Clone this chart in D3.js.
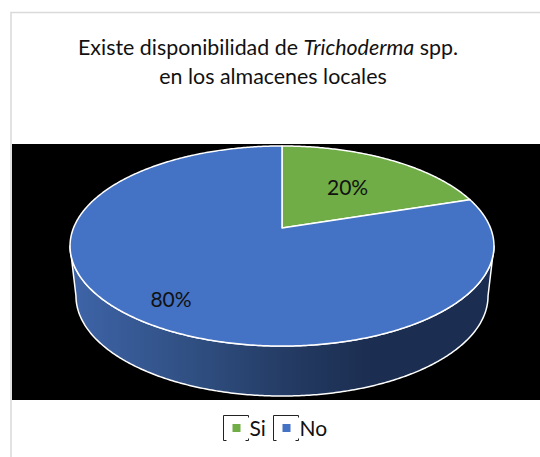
<!DOCTYPE html>
<html>
<head>
<meta charset="utf-8">
<script src="https://cdn.jsdelivr.net/npm/d3@7"></script>
<style>
    html, body { margin: 0; background: white; }
    svg { display: block; }
    text { font-family: Lato, "Noto Sans", sans-serif; fill: #111; }
</style>
</head>
<body>
<script>

let categories = ['Si', 'No'];
let values = [20, 80];
let labels = ['20%', '80%'];
let colors = ['#70ad47', '#4472c4'];

let width = 540,
    height = 457;

let svg = d3.select('body')
    .append('svg')
    .attr('width', width)
    .attr('height', height);

let color = d3.scaleOrdinal()
    .domain(categories)
    .range(colors);

// Pie is tilted with some perspective, so the centre sits above the middle of the rim
let cx = 282,
    cy = 228,
    ax = 208.5,
    ay = 96.8,
    k = 0.18,
    depth = 50,
    base_shrink = 0.972;

// Chart frame
svg.append('path')
    .attr('d', 'M11,' + height + 'V12.5H' + width)
    .attr('fill', 'none')
    .attr('stroke', '#d9d9d9')
    .attr('stroke-width', 1.5);

// Plot area
svg.append('rect')
    .attr('x', 12)
    .attr('y', 144)
    .attr('width', width - 12)
    .attr('height', 256)
    .attr('fill', 'black');

// Title
let title = svg.append('text')
    .attr('text-anchor', 'middle')
    .style('font-size', '21.4px');

let line1 = title.append('tspan')
    .attr('x', 268)
    .attr('y', 55);

line1.append('tspan').text('Existe disponibilidad de ');
line1.append('tspan').style('font-style', 'italic').text('Trichoderma');
line1.append('tspan').text(' spp.');

title.append('tspan')
    .attr('x', 273)
    .attr('y', 84)
    .text('en los almacenes locales');

let defs = svg.append('defs');

let side_gradient = defs.append('linearGradient')
    .attr('id', 'side')
    .attr('gradientUnits', 'userSpaceOnUse')
    .attr('x1', 72)
    .attr('x2', 494)
    .attr('y1', 0)
    .attr('y2', 0);

side_gradient.append('stop').attr('offset', 0).attr('stop-color', '#3e64a8');
side_gradient.append('stop').attr('offset', 0.3).attr('stop-color', '#2f4e80');
side_gradient.append('stop').attr('offset', 0.55).attr('stop-color', '#22385f');
side_gradient.append('stop').attr('offset', 0.72).attr('stop-color', '#1b2d50');
side_gradient.append('stop').attr('offset', 1).attr('stop-color', '#1b2d50');

function project (angle, r) {

    let u = r * Math.sin(angle),
        v = r * Math.cos(angle),
        w = 1 + k * v;

    return [cx + ax * u / w, cy - ay * v / w];

}

function project_base (angle) {

    let p = project(angle, 1);

    return [cx + (p[0] - cx) * base_shrink, p[1] + depth];

}

function angles (start, end) {
    return d3.range(start, end, 0.01).concat([end]);
}

let line = d3.line();

// Side wall, between the widest points of the rim
let wall_start = Math.acos(-k),
    wall_end = 2 * Math.PI - wall_start;

svg.append('path')
    .attr('d', line(angles(wall_start, wall_end).map(a => project(a, 1))
        .concat(angles(wall_start, wall_end).reverse().map(project_base))) + 'Z')
    .attr('fill', 'url(#side)')
    .attr('stroke', 'white')
    .attr('stroke-width', 1.5)
    .attr('stroke-linejoin', 'round');

// Top of the pie
let slices = d3.pie()
    .sort(null)
    .value((d, i) => values[i])(categories);

svg.selectAll('.slice')
    .data(slices)
    .enter()
    .append('path')
    .attr('class', 'slice')
    .attr('d', d => line([[cx, cy]].concat(angles(d.startAngle, d.endAngle).map(a => project(a, 1)))) + 'Z')
    .attr('fill', d => color(d.data))
    .attr('stroke', 'white')
    .attr('stroke-width', 1.5)
    .attr('stroke-linejoin', 'round');

// Data labels
let label_radius = [0.58, 0.8];

svg.selectAll('.label')
    .data(slices)
    .enter()
    .append('text')
    .attr('class', 'label')
    .attr('text-anchor', 'middle')
    .attr('dominant-baseline', 'central')
    .style('font-size', '21px')
    .attr('transform', (d, i) => 'translate(' + project((d.startAngle + d.endAngle) / 2, label_radius[i]) + ')')
    .text((d, i) => labels[i]);

// Legend
let legend = svg.selectAll('.legend')
    .data(categories)
    .enter()
    .append('g')
    .attr('class', 'legend')
    .attr('transform', (d, i) => 'translate(' + (223.5 + i * 50) + ',415.5)');

legend.append('path')
    .attr('d', 'M3,25H0V0H25V2M22,25H25V23')
    .attr('fill', 'none')
    .attr('stroke', '#222')
    .attr('stroke-width', 1);

legend.append('rect')
    .attr('x', 9)
    .attr('y', 8.5)
    .attr('width', 8)
    .attr('height', 8)
    .attr('fill', d => color(d));

legend.append('text')
    .attr('x', 26)
    .attr('y', 20)
    .style('font-size', '21px')
    .text(d => d);

</script>
</body>
</html>
